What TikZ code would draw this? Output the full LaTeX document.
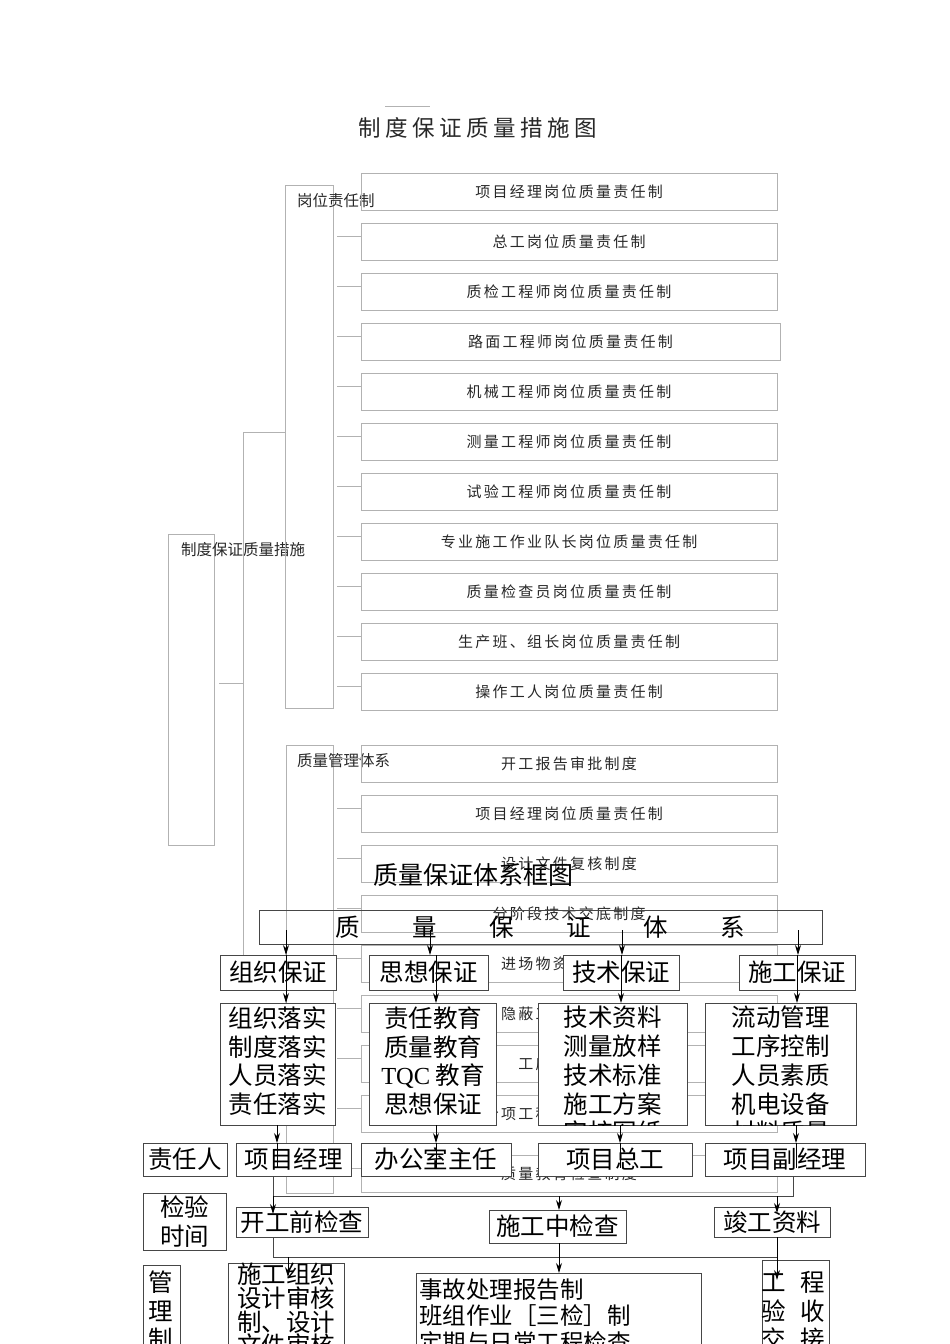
\documentclass[tikz,border=0pt]{standalone}
\usepackage{fontspec}
\setmainfont{Liberation Serif}
\newfontfamily\cjk{Noto Sans CJK SC}
\newfontfamily\cjksp{Noto Sans CJK SC}[LetterSpace=15]
\newfontfamily\cjkttl{Noto Sans CJK SC}[LetterSpace=20]
\usetikzlibrary{arrows.meta,calc}
\definecolor{lg}{RGB}{178,178,178}
\definecolor{dk}{RGB}{70,70,70}
\definecolor{txa}{RGB}{40,40,40}
\tikzset{
 gline/.style={draw=lg, line width=1pt},
 gbox/.style={draw=lg, line width=1pt, inner sep=0pt, outer sep=0pt, font=\cjksp\fontsize{15}{17}\selectfont, text=txa},
 glabel/.style={anchor=west, inner sep=0pt, font=\cjk\fontsize{15.5}{17}\selectfont, text=txa},
 kbox/.style={draw=dk, line width=1pt, fill=white, inner sep=0pt, outer sep=0pt, font=\cjk\fontsize{24.5}{28.7}\selectfont, align=center},
 ktext/.style={inner sep=0pt, outer sep=0pt, font=\cjk\fontsize{24.5}{28.7}\selectfont, align=center},
 kline/.style={draw=dk, line width=1pt},
 arr/.style={draw=black, line width=0.9pt, -{Stealth[length=10pt,width=6pt]}},
}
\newcommand{\mybox}[7]{\node[#6,anchor=north west,minimum width={(#4-#2)*1pt},minimum height={(#5-#3)*1pt}] (#1) at (#2,#3) {#7};}
\begin{document}
\begin{tikzpicture}[x=1pt,y=-1pt]
\path[use as bounding box] (0,0) rectangle (950,1344);
\clip (0,0) rectangle (950,1344);
\fill[white] (0,0) rectangle (950,1344);

% ---------------- diagram 1 ----------------
\draw[gline] (385,106) -- (430,106);
\node[font=\cjkttl\fontsize{22.5}{24}\selectfont, text=txa, inner sep=0pt] (t1) at (478,128) {制度保证质量措施图};

\mybox{L0}{168}{534}{214}{845}{gbox}{}
\node[glabel] (L0t) at (181,550) {制度保证质量措施};
\mybox{G1}{285}{185}{333}{708}{gbox}{}
\node[glabel] (G1t) at (297,201) {岗位责任制};
\mybox{G2}{286}{745}{333}{1193}{gbox}{}
\node[glabel] (G2t) at (297,761) {质量管理体系};

\foreach \t [count=\k] in {项目经理岗位质量责任制,总工岗位质量责任制,质检工程师岗位质量责任制,路面工程师岗位质量责任制,机械工程师岗位质量责任制,测量工程师岗位质量责任制,试验工程师岗位质量责任制,专业施工作业队长岗位质量责任制,质量检查员岗位质量责任制,生产班、组长岗位质量责任制,操作工人岗位质量责任制}{
  \pgfmathsetmacro\yy{173+50*(\k-1)}
  \pgfmathsetmacro\xr{\k==4 ? 780 : 777}
  \mybox{r\k}{361}{\yy}{\xr}{\yy+37}{gbox}{\t}
  \ifnum\k>1 \draw[gline] ([shift={(-24pt,5pt)}]r\k.west) -- ([yshift=5pt]r\k.west); \fi
}

\foreach \yy/\t [count=\k] in {745/开工报告审批制度,795/项目经理岗位质量责任制,845/设计文件复核制度,895/分阶段技术交底制度,945/进场物资检验制度,995/隐蔽工程验收制度,1045/工序交接制度,1095/分项工程质量评定制度,1155/质量教育检查制度}{
  \mybox{s\k}{361}{\yy}{777}{\yy+37}{gbox}{\t}
  \draw[gline] ([shift={(-24pt,5pt)}]s\k.west) -- ([yshift=5pt]s\k.west);
}

\coordinate (sp0) at (243,683);
\coordinate (sp1) at (243,432);
\coordinate (sp2) at (243,960);
\draw[gline] (G1.west |- sp1) -- (sp1) -- (sp2) -- (G2.west |- sp2);
\draw[gline] ([xshift=5pt]L0.east |- sp0) -- (sp0);

% ---------------- diagram 2 ----------------
\node[anchor=west, inner sep=0pt, font=\cjk\fontsize{25}{27}\selectfont] (t2) at (373,875) {质量保证体系框图};

\mybox{B}{259}{910}{822}{944}{kbox,fill=none}{质\hspace{52.5pt}量\hspace{52.5pt}保\hspace{52.5pt}证\hspace{52.5pt}体\hspace{52.5pt}系}

\mybox{a1}{220}{955}{336}{990}{kbox}{组织保证}
\mybox{a2}{369}{955}{488}{990}{kbox}{思想保证}
\mybox{a3}{563}{955}{679}{990}{kbox}{技术保证}
\mybox{a4}{739}{955}{855}{990}{kbox}{施工保证}

\mybox{b1}{220}{1003}{335}{1125}{kbox}{}
\node[ktext] (b1t) at (277.5,1061) {组织落实\\制度落实\\人员落实\\责任落实};
\mybox{b2}{369}{1003}{496}{1125}{kbox}{}
\node[ktext] (b2t) at (433,1061) {责任教育\\质量教育\\{\rmfamily TQC} 教育\\思想保证};
\mybox{b3}{538}{1003}{687}{1125}{kbox}{}
\mybox{b4}{705}{1003}{856}{1125}{kbox}{}
\begin{scope}
\clip (b3.north west) rectangle (b3.south east);
\node[ktext] (b3t) at (612.5,1075) {技术资料\\测量放样\\技术标准\\施工方案\\审核图纸};
\end{scope}
\begin{scope}
\clip (b4.north west) rectangle (b4.south east);
\node[ktext] (b4t) at (780.5,1075) {流动管理\\工序控制\\人员素质\\机电设备\\材料质量};
\end{scope}

\mybox{c0}{143}{1143}{227}{1176}{kbox}{责任人}
\mybox{c1}{236}{1143}{351}{1176}{kbox}{项目经理}
\mybox{c2}{361}{1143}{511}{1176}{kbox}{办公室主任}
\mybox{c3}{538}{1143}{692}{1176}{kbox}{项目总工}
\mybox{c4}{705}{1143}{865}{1176}{kbox}{项目副经理}

\mybox{d0}{143}{1193}{226}{1250}{kbox,font=\cjk\fontsize{24.5}{29}\selectfont}{检验\\时间}
\mybox{d1}{236}{1207}{368}{1237}{kbox}{开工前检查}
\mybox{d2}{489}{1210}{626}{1243}{kbox}{施工中检查}
\mybox{d3}{714}{1207}{830}{1237}{kbox}{竣工资料}

\mybox{e0}{143}{1265}{180}{1370}{kbox}{}
\node[ktext, font=\cjk\fontsize{24.5}{28.5}\selectfont] (e0t) at (161,1311) {管\\理\\制};
\mybox{e1}{228}{1263}{344}{1370}{kbox}{}
\node[ktext, font=\cjk\fontsize{24.5}{22}\selectfont] (e1t) at (286,1310) {施工组织\\设计审核\\制、设计\\文件审核};
\mybox{e2}{416}{1273}{701}{1370}{kbox}{}
\node[ktext, align=left, anchor=west, font=\cjk\fontsize{23.5}{26.5}\selectfont] (e2t) at (419,1316) {事故处理报告制\\班组作业［三检］制\\定期与日常工程检查};
\mybox{e3}{762}{1260}{829}{1370}{kbox}{}
\node[ktext, font=\cjk\fontsize{24.5}{28.5}\selectfont] (e3t) at (793,1311) {工\hspace{14.5pt}程\\验\hspace{14.5pt}收\\交\hspace{14.5pt}接};

% arrows of the upper part
\coordinate (ax1) at (286,0); \coordinate (ax2) at (430,0); \coordinate (ax3) at (622,0); \coordinate (ax4) at (798,0);
\coordinate (bx1) at (286,0); \coordinate (bx2) at (436,0); \coordinate (bx3) at (621,0); \coordinate (bx4) at (797,0);
\coordinate (cx1) at (277,0); \coordinate (cx2) at (436,0); \coordinate (cx3) at (620,0); \coordinate (cx4) at (796,0);
\foreach \i in {1,...,4}{
  \draw[arr] ([yshift=14pt]B.south -| ax\i) -- (a\i.north -| ax\i);
  \draw[arr] (a\i.north -| bx\i) -- (b\i.north -| bx\i);
  \draw[arr] (b\i.south -| cx\i) -- (c\i.north -| cx\i);
  \draw[draw=black, line width=0.9pt] (c\i.north -| cx\i) -- ([yshift=8pt]c\i.south -| cx\i);
}

% lower buses
\coordinate (h1l) at (273,1196);
\coordinate (h1r) at (793,1196);
\coordinate (h1m) at (559,1196);
\coordinate (h1q) at (777,1196);
\draw[kline] (c1.south -| h1l) -- (h1l) -- (h1r) -- (c4.south -| h1r);
\draw[arr] (h1l) -- ([yshift=-7pt]d1.north -| h1l);
\draw[arr] (h1m) -- (d2.north -| h1m);
\draw[arr] (h1q) -- ([yshift=-6pt]d3.north -| h1q);

\coordinate (h2l) at (273,1257);
\coordinate (h2r) at (777,1257);
\coordinate (h2m) at (559,1257);
\coordinate (h2a) at (288,1257);
\draw[kline] (d1.south -| h2l) -- (h2l) -- (h2r);
\draw[arr] (d3.south -| h2r) -- ([yshift=-20pt]e3.north -| h2r);
\draw[arr] (d2.south -| h2m) -- (e2.north -| h2m);
\draw[arr] (h2a) -- ([yshift=-14pt]e1.north -| h2a);
\end{tikzpicture}
\end{document}
